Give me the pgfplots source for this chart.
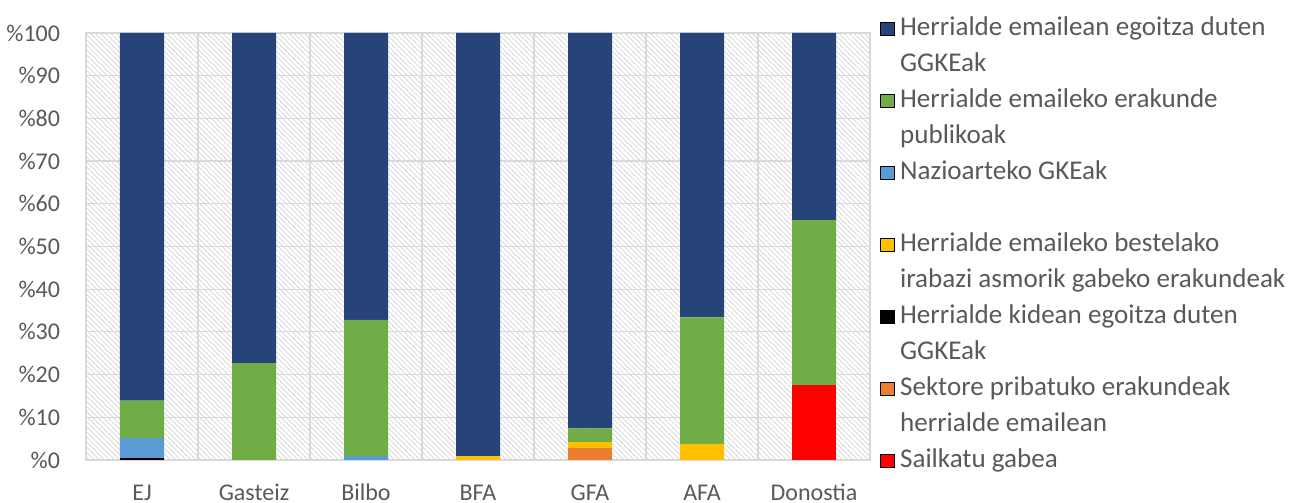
\documentclass[border=0pt]{standalone}
\usepackage{pgfplots}
\usepackage{pgfplotstable}
\pgfplotsset{compat=1.18}
\usetikzlibrary{patterns.meta}
\usepackage{fontspec}
\setmainfont{Carlito}

\definecolor{cDark}{HTML}{264478}
\definecolor{cGreen}{HTML}{70AD47}
\definecolor{cLtBlue}{HTML}{5B9BD5}
\definecolor{cYellow}{HTML}{FFC000}
\definecolor{cBlack}{HTML}{000000}
\definecolor{cOrange}{HTML}{ED7D31}
\definecolor{cRed}{HTML}{FF0000}
\definecolor{cText}{HTML}{595959}
\definecolor{cGrid}{HTML}{D9D9D9}
\definecolor{cHatch}{HTML}{D2D2D2}

% shares (%) by category, stacked bottom to top: red, orange, black, yellow, ltblue, green, dark
\pgfplotstableread{
cat red  orange black yellow ltblue green dark
0   0    0      0.4   0      4.7    8.8   86.1
1   0    0      0     0      0      22.7  77.3
2   0    0      0     0      0.9    31.9  67.2
3   0    0      0     0.9    0      0     99.1
4   0    2.7    0     1.5    0      3.2   92.6
5   0    0      0     3.75   0      29.65 66.6
6   17.6 0      0     0      0      38.6  43.8
}\datatable

\pgfplotsset{
  legsq/.style={legend image code/.code={\fill[##1] (0pt,0pt) rectangle (10pt,10pt);}},
}

\begin{document}
\begin{tikzpicture}
\begin{axis}[
  at={(64.5pt,32.25pt)}, anchor=south west,
  scale only axis, width=588pt, height=320.25pt,
  ybar stacked, bar width=33pt,
  enlargelimits=false,
  xmin=-0.5, xmax=6.5, ymin=0, ymax=100,
  xtick={0,...,6},
  xticklabels={EJ,Gasteiz,Bilbo,BFA,GFA,AFA,Donostia},
  minor xtick={0.5,1.5,...,5.5},
  ytick={0,10,...,100},
  yticklabels={\%0,\%10,\%20,\%30,\%40,\%50,\%60,\%70,\%80,\%90,\%100},
  major tick length=0pt, minor tick length=0pt,
  ymajorgrids, xminorgrids,
  major grid style={draw=cGrid, line width=0.9pt},
  minor grid style={draw=cGrid, line width=0.9pt},
  axis line style={draw=cGrid, line width=0.9pt},
  axis background/.style={pattern={Lines[angle=-45,distance=2.7pt,line width=0.5pt]}, pattern color=cHatch},
  tick label style={font=\fontsize{18}{22}\selectfont, text=cText, inner sep=0pt},
  yticklabel style={anchor=east, xshift=-19.25pt},
  xticklabel style={anchor=base, yshift=-30.5pt},
  legend cell align=left,
  legend style={at={(rel axis cs:1,1)}, anchor=north west, xshift=7.5pt, yshift=12.5pt,
    draw=none, fill=none, inner sep=0pt, row sep=7.4pt,
    cells={anchor=base west},
    nodes={inner sep=0pt, text=cText, font=\fontsize{20.3}{24}\selectfont,
           text height=14pt, text depth=5.6pt},
    /tikz/every odd column/.append style={column sep=4.5pt}},
]
\addplot[fill=cRed,    draw=none, forget plot] table[x=cat, y=red]    {\datatable};
\addplot[fill=cOrange, draw=none, forget plot] table[x=cat, y=orange] {\datatable};
\addplot[fill=cBlack,  draw=none, forget plot] table[x=cat, y=black]  {\datatable};
\addplot[fill=cYellow, draw=none, forget plot] table[x=cat, y=yellow] {\datatable};
\addplot[fill=cLtBlue, draw=none, forget plot] table[x=cat, y=ltblue] {\datatable};
\addplot[fill=cGreen,  draw=none, forget plot] table[x=cat, y=green]  {\datatable};
\addplot[fill=cDark,   draw=none, forget plot] table[x=cat, y=dark]   {\datatable};

% legend, one row per text line
\addlegendimage{legsq, fill=cDark}
\addlegendentry{Herrialde emailean egoitza duten}
\addlegendimage{empty legend}
\addlegendentry{GGKEak}
\addlegendimage{legsq, fill=cGreen}
\addlegendentry{Herrialde emaileko erakunde}
\addlegendimage{empty legend}
\addlegendentry{publikoak}
\addlegendimage{legsq, fill=cLtBlue}
\addlegendentry{Nazioarteko GKEak}
\addlegendimage{empty legend}
\addlegendentry{}
\addlegendimage{legsq, fill=cYellow}
\addlegendentry{Herrialde emaileko bestelako}
\addlegendimage{empty legend}
\addlegendentry{irabazi asmorik gabeko erakundeak}
\addlegendimage{legsq, fill=cBlack}
\addlegendentry{Herrialde kidean egoitza duten}
\addlegendimage{empty legend}
\addlegendentry{GGKEak}
\addlegendimage{legsq, fill=cOrange}
\addlegendentry{Sektore pribatuko erakundeak}
\addlegendimage{empty legend}
\addlegendentry{herrialde emailean}
\addlegendimage{legsq, fill=cRed}
\addlegendentry{Sailkatu gabea}
\end{axis}
\pgfresetboundingbox
\useasboundingbox (0pt,0pt) rectangle (969.75pt,377.25pt);
\end{tikzpicture}
\end{document}
